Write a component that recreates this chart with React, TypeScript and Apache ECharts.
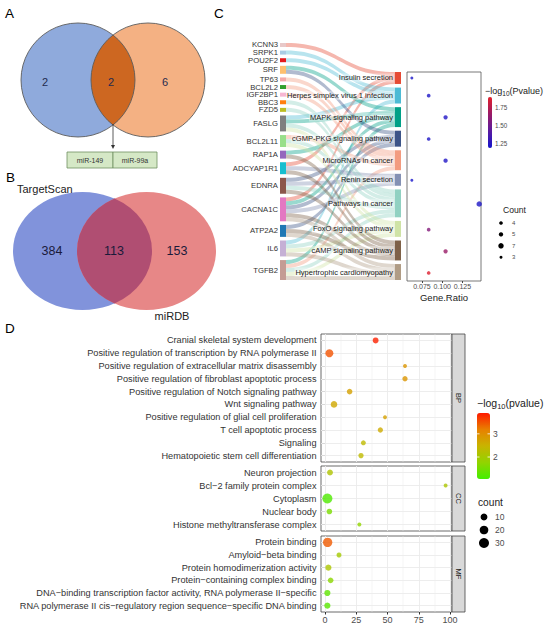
import React, { useEffect, useRef } from 'react';
import * as echarts from 'echarts';

const FONT = '"Liberation Sans", Arial, Helvetica, sans-serif';

// ---------- Panel A ----------
const vennACounts = [2, 2, 6]; // left only, both, right only
const vennAMirs = ['miR-149', 'miR-99a'];
// ---------- Panel B ----------
const vennBNames = ['TargetScan', 'miRDB'];
const vennBCounts = [384, 113, 153];

// ---------- Panel C ----------
const genes = ['KCNN3', 'SRPK1', 'POU2F2', 'SRF', 'TP63', 'BCL2L2', 'IGF2BP1', 'BBC3', 'FZD5', 'FASLG', 'BCL2L11', 'RAP1A', 'ADCYAP1R1', 'EDNRA', 'CACNA1C', 'ATP2A2', 'IL6', 'TGFB2'];
const geneColors = ['#e8c8c8', '#a9cce3', '#e31a1c', '#fdbf6f', '#f4a9a8', '#33a02c', '#f7b6d2', '#ff7f0e', '#bcbd22', '#7f7f7f', '#98df8a', '#9467bd', '#17becf', '#8c564b', '#e377c2', '#1f77b4', '#c5b0d5', '#c49c94'];
const pathways = ['Insulin secretion', 'Herpes simplex virus 1 infection', 'MAPK signaling pathway', 'cGMP-PKG signaling pathway', 'MicroRNAs in cancer', 'Renin secretion', 'Pathways in cancer', 'FoxO signaling pathway', 'cAMP signaling pathway', 'Hypertrophic cardiomyopathy'];
const pathwayColors = ['#E64B35', '#4DBBD5', '#00A087', '#3C5488', '#F39B7F', '#8491B4', '#91D1C2', '#cfe3a6', '#7E6148', '#B09C85'];
const pathwayGenes = [
  ['KCNN3', 'ADCYAP1R1', 'CACNA1C'],
  ['SRPK1', 'POU2F2', 'FASLG', 'IL6'],
  ['SRF', 'FASLG', 'RAP1A', 'CACNA1C', 'TGFB2'],
  ['SRF', 'EDNRA', 'CACNA1C', 'ATP2A2'],
  ['TP63', 'BCL2L2', 'IGF2BP1', 'BCL2L11', 'TGFB2'],
  ['ADCYAP1R1', 'EDNRA', 'CACNA1C'],
  ['FZD5', 'FASLG', 'BCL2L11', 'EDNRA', 'IL6', 'TGFB2', 'BBC3'],
  ['BCL2L11', 'FASLG', 'IL6', 'TGFB2'],
  ['ADCYAP1R1', 'EDNRA', 'CACNA1C', 'ATP2A2', 'RAP1A'],
  ['CACNA1C', 'ATP2A2', 'IL6', 'TGFB2'],
];
const pathwayCount = [3, 4, 5, 4, 5, 3, 7, 4, 5, 4];
const pathwayRatio = [0.0625, 0.0833, 0.1042, 0.0833, 0.1042, 0.0625, 0.1458, 0.0833, 0.1042, 0.0833];
const pathwayLogP = [1.21, 1.22, 1.23, 1.22, 1.23, 1.2, 1.22, 1.58, 1.66, 1.88];
const cRatioTicks = [0.075, 0.1, 0.125];
const cLogPTicks = [1.25, 1.5, 1.75];
const cCountLegend = [4, 5, 7, 3];

// ---------- Panel D ----------
const bpTerms = ['Cranial skeletal system development', 'Positive regulation of transcription by RNA polymerase II', 'Positive regulation of extracellular matrix disassembly', 'Positive regulation of fibroblast apoptotic process', 'Positive regulation of Notch signaling pathway', 'Wnt signaling pathway', 'Positive regulation of glial cell proliferation', 'T cell apoptotic process', 'Signaling', 'Hematopoietic stem cell differentiation'];
const bpX = [40.5, 3.5, 64, 64, 19.7, 7.2, 48, 44.3, 30.7, 28.8];
const bpCount = [6, 16, 1, 4, 5, 9, 1, 4, 3, 4];
const bpLogP = [3.85, 3.5, 2.9, 2.9, 2.75, 2.65, 2.75, 2.6, 2.35, 2.35];
const ccTerms = ['Neuron projection', 'Bcl\u22122 family protein complex', 'Cytoplasm', 'Nuclear body', 'Histone methyltransferase complex'];
const ccX = [4, 96.5, 1.9, 3.5, 27.5];
const ccCount = [6, 1, 30, 5, 1];
const ccLogP = [2.15, 2.1, 1.15, 1.55, 1.75];
const mfTerms = ['Protein binding', 'Amyloid\u2212beta binding', 'Protein homodimerization activity', 'Protein\u2212containing complex binding', 'DNA\u2212binding transcription factor activity, RNA polymerase II\u2212specific', 'RNA polymerase II cis\u2212regulatory region sequence\u2212specific DNA binding'];
const mfX = [2.1, 11.2, 2.7, 4.5, 1.9, 1.9];
const mfCount = [25, 3, 7, 5, 7, 7];
const mfLogP = [3.45, 2.0, 2.1, 1.7, 1.3, 1.25];
const dFacets = ['BP', 'CC', 'MF'];
const dXTicks = [0, 25, 50, 75, 100];
const dXGrid = [0, 12.5, 25, 37.5, 50, 62.5, 75, 87.5, 100];
const dLogPTicks = [2, 3];
const dCountLegend = [10, 20, 30];

// lens shape for Venn overlaps
const Lens = echarts.graphic.extendShape({
  shape: { cx1: 0, cx2: 0, cy: 0, r: 10 },
  buildPath(ctx: any, s: any) {
    const d = (s.cx2 - s.cx1) / 2;
    const a = Math.acos(d / s.r);
    ctx.moveTo(s.cx1 + d, s.cy - s.r * Math.sin(a));
    ctx.arc(s.cx1, s.cy, s.r, -a, a, false);
    ctx.arc(s.cx2, s.cy, s.r, Math.PI - a, Math.PI + a, false);
    ctx.closePath();
  },
});
echarts.graphic.registerShape('lens', Lens as any);

const sizeC = (c: number) => 2.7 * Math.sqrt(c) - 1.7;
const sizeD = (c: number) => 2.6 + 1.35 * Math.sqrt(c);

function txt(text: string, x: number, y: number, o: any = {}) {
  return {
    type: 'text', x, y, silent: true, z: o.z ?? 20, rotation: o.rotation || 0,
    style: {
      text, fontSize: o.fontSize || 9, fontFamily: FONT, fill: o.fill || '#222',
      align: o.align || 'left', verticalAlign: o.verticalAlign || 'middle', rich: o.rich,
    },
  };
}

function buildOption() {
  const SK_TOP = 43, SK_H = 237, GAP = 3.625;
  const total = pathwayCount.reduce((s, v) => s + v, 0);
  const ky = (SK_H - (genes.length - 1) * GAP) / total;
  const rightSpan = total * ky + (pathways.length - 1) * GAP;
  const rightOffset = SK_H - rightSpan;
  const localYs: number[] = [];
  const centers: number[] = [];
  let acc = rightOffset;
  pathwayCount.forEach((c) => {
    localYs.push(acc / SK_H);
    centers.push(acc + (c * ky) / 2);
    acc += c * ky + GAP;
  });

  const nodes = [
    ...genes.map((g, i) => ({
      name: g, itemStyle: { color: geneColors[i], borderWidth: 0 },
      label: { position: 'left', distance: 2, fontSize: 7.7, color: '#333', fontFamily: FONT },
    })),
    ...pathways.map((p, i) => ({
      name: p, localY: localYs[i], itemStyle: { color: pathwayColors[i], borderWidth: 0 },
      label: { position: 'left', distance: 1, fontSize: 7.5, color: '#222', fontFamily: FONT, backgroundColor: 'rgba(255,255,255,0.35)', padding: [1, 1, 0, 1] },
    })),
  ];
  const links: any[] = [];
  pathways.forEach((p, i) => pathwayGenes[i].forEach((g) => links.push({ source: g, target: p, value: 1 })));

  const dLeft = 321, dWidth = 131;
  const dGrids = [{ top: 334, height: 128 }, { top: 466, height: 65 }, { top: 536, height: 76 }];
  const dTerms = [bpTerms, ccTerms, mfTerms];
  const dX = [bpX, ccX, mfX];
  const dCount = [bpCount, ccCount, mfCount];
  const dLogP = [bpLogP, ccLogP, mfLogP];

  const cMin = 1.19, cMax = 1.9, cBarTop = 97, cBarH = 51, cBarLeft = 488, cBarW = 4;
  const dMin = 1.05, dMax = 3.9, dBarTop = 413, dBarH = 66, dBarLeft = 477, dBarW = 13;

  const grids: any[] = [
    { left: 407, top: 72, width: 74, height: 209, show: true, borderColor: '#555', borderWidth: 0.8, backgroundColor: '#fff' },
    ...dGrids.map((g) => ({ left: dLeft, width: dWidth, top: g.top, height: g.height, show: true, borderColor: '#444', borderWidth: 0.8, backgroundColor: '#fff' })),
  ];
  const xAxes: any[] = [
    {
      gridIndex: 0, type: 'value', min: 0.0565, max: 0.148, splitLine: { show: false }, axisLine: { show: false },
      axisTick: { show: true, customValues: cRatioTicks, length: 2, lineStyle: { color: '#444' } },
      axisLabel: { customValues: cRatioTicks, formatter: (v: number) => v.toFixed(3), fontSize: 7, color: '#4d4d4d', margin: 2, fontFamily: FONT },
      name: 'Gene.Ratio', nameLocation: 'middle', nameGap: 11, nameTextStyle: { fontSize: 9.5, color: '#222', fontFamily: FONT, verticalAlign: 'top' },
    },
    ...dGrids.map((g, k) => ({
      gridIndex: k + 1, type: 'value', min: -3.2, max: 101.6, splitLine: { show: false }, axisLine: { show: false },
      axisTick: { show: k === 2, customValues: dXTicks, length: 2.5, lineStyle: { color: '#333' } },
      axisLabel: { show: k === 2, customValues: dXTicks, fontSize: 9, color: '#4d4d4d', margin: 3, fontFamily: FONT },
    })),
  ];
  const yAxes: any[] = [
    { gridIndex: 0, type: 'value', min: rightOffset, max: SK_H, inverse: true, show: false, splitLine: { show: false } },
    ...dGrids.map((g, k) => ({
      gridIndex: k + 1, type: 'category', data: dTerms[k], inverse: true,
      axisLine: { show: false }, splitLine: { show: false },
      axisTick: { show: true, alignWithLabel: true, length: 3, lineStyle: { color: '#333' } },
      axisLabel: { fontSize: 9.2, color: '#333', margin: 4.5, fontFamily: FONT },
    })),
  ];

  const series: any[] = [
    {
      type: 'sankey', left: 280, top: SK_TOP, width: 121, height: SK_H, nodeWidth: 6, nodeGap: GAP,
      layoutIterations: 0, draggable: false, emphasis: { disabled: true },
      data: nodes, links,
      lineStyle: { color: 'target', opacity: 0.4, curveness: 0.5 },
      itemStyle: { borderWidth: 0 },
    },
    {
      type: 'scatter', xAxisIndex: 0, yAxisIndex: 0,
      data: pathways.map((p, i) => [pathwayRatio[i], centers[i], pathwayLogP[i], pathwayCount[i]]),
      symbolSize: (v: number[]) => sizeC(v[3]), emphasis: { disabled: true },
    },
    ...dGrids.map((g, k) => ({
      type: 'scatter', xAxisIndex: k + 1, yAxisIndex: k + 1, z: 3,
      data: dTerms[k].map((t, i) => [dX[k][i], i, dLogP[k][i], dCount[k][i]]),
      symbolSize: (v: number[]) => sizeD(v[3]), emphasis: { disabled: true },
      markLine: {
        z: 1, silent: true, symbol: ['none', 'none'], label: { show: false }, emphasis: { disabled: true },
        lineStyle: { color: '#ebebeb', width: 0.5, type: 'solid' },
        data: [
          ...dXGrid.map((v) => ({ xAxis: v, lineStyle: { color: '#ebebeb', type: 'solid', width: v % 25 === 0 ? 0.9 : 0.45 } })),
          ...dTerms[k].map((t, i) => ({ yAxis: i, lineStyle: { color: '#ebebeb', type: 'solid', width: 0.9 } })),
        ],
      },
    })),
  ];

  const graphic: any[] = [];
  // Panel labels
  graphic.push(txt('A', 5, 13, { fontSize: 13.5, fill: '#000' }));
  graphic.push(txt('B', 6, 177, { fontSize: 13.5, fill: '#000' }));
  graphic.push(txt('C', 214, 13, { fontSize: 13.5, fill: '#000' }));
  graphic.push(txt('D', 5, 328, { fontSize: 13.5, fill: '#000' }));

  // Panel A venn
  const aL = { cx: 78, cy: 80, r: 57 }, aR = { cx: 148, cy: 80, r: 57 };
  graphic.push({ type: 'circle', shape: aL, style: { fill: '#8faadc', stroke: 'none' }, silent: true, z: 5 });
  graphic.push({ type: 'circle', shape: aR, style: { fill: '#f4b183', stroke: 'none' }, silent: true, z: 5 });
  graphic.push({ type: 'lens', shape: { cx1: aL.cx, cx2: aR.cx, cy: aL.cy, r: aL.r }, style: { fill: '#c55a11', opacity: 0.85 }, silent: true, z: 6 });
  graphic.push({ type: 'circle', shape: aL, style: { fill: 'none', stroke: '#5b5b5b', lineWidth: 0.9 }, silent: true, z: 7 });
  graphic.push({ type: 'circle', shape: aR, style: { fill: 'none', stroke: '#5b5b5b', lineWidth: 0.9 }, silent: true, z: 7 });
  graphic.push(txt(String(vennACounts[0]), 45, 82, { fontSize: 11, fill: '#1f2a4f', align: 'center' }));
  graphic.push(txt(String(vennACounts[1]), 111, 82, { fontSize: 11, fill: '#1f2a4f', align: 'center' }));
  graphic.push(txt(String(vennACounts[2]), 165, 82, { fontSize: 11, fill: '#1f2a4f', align: 'center' }));
  // arrow
  graphic.push({ type: 'line', shape: { x1: 113, y1: 124, x2: 113, y2: 147 }, style: { stroke: '#333', lineWidth: 0.8 }, silent: true, z: 8 });
  graphic.push({ type: 'polygon', shape: { points: [[111, 145], [115, 145], [113, 149]] }, style: { fill: '#333' }, silent: true, z: 8 });
  // box
  graphic.push({ type: 'rect', shape: { x: 67, y: 152, width: 46, height: 16 }, style: { fill: '#d5e8c6', stroke: '#6f8f60', lineWidth: 0.8 }, silent: true, z: 8 });
  graphic.push({ type: 'rect', shape: { x: 113, y: 152, width: 44, height: 16 }, style: { fill: '#d5e8c6', stroke: '#6f8f60', lineWidth: 0.8 }, silent: true, z: 8 });
  graphic.push(txt(vennAMirs[0], 90, 160.5, { fontSize: 7, fill: '#333', align: 'center' }));
  graphic.push(txt(vennAMirs[1], 135, 160.5, { fontSize: 7, fill: '#333', align: 'center' }));

  // Panel B venn (ellipses)
  const bCy = 251, bRx = 69.5, bRy = 59, bL = 82.5, bR = 146.5;
  graphic.push({ type: 'ellipse', shape: { cx: bL, cy: bCy, rx: bRx, ry: bRy }, style: { fill: '#8193db' }, silent: true, z: 5 });
  graphic.push({ type: 'ellipse', shape: { cx: bR, cy: bCy, rx: bRx, ry: bRy }, style: { fill: '#e78787' }, silent: true, z: 5 });
  graphic.push({ type: 'lens', x: 0, y: bCy, scaleY: bRy / bRx, shape: { cx1: bL, cx2: bR, cy: 0, r: bRx }, style: { fill: '#b04e72' }, silent: true, z: 6 });
  graphic.push(txt(vennBNames[0], 17, 189, { fontSize: 11, fill: '#222' }));
  graphic.push(txt(vennBNames[1], 172, 316, { fontSize: 11, fill: '#222', align: 'center' }));
  graphic.push(txt(String(vennBCounts[0]), 52, 251, { fontSize: 12.5, fill: '#1a1a3a', align: 'center' }));
  graphic.push(txt(String(vennBCounts[1]), 114, 251, { fontSize: 12.5, fill: '#1a1a3a', align: 'center' }));
  graphic.push(txt(String(vennBCounts[2]), 177, 251, { fontSize: 12.5, fill: '#1a1a3a', align: 'center' }));

  // Panel C legends
  graphic.push(txt('\u2212log{sub|10}(Pvalue)', 485, 91, { fontSize: 9, fill: '#222', rich: { sub: { fontSize: 6.5, padding: [5, 0, 0, 0] } } }));
  cLogPTicks.forEach((v) => {
    const y = cBarTop + ((cMax - v) / (cMax - cMin)) * cBarH;
    graphic.push(txt(v.toFixed(2), cBarLeft + cBarW + 3, y, { fontSize: 6.3, fill: '#4d4d4d' }));
  });
  graphic.push(txt('Count', 503, 210, { fontSize: 8.6, fill: '#222' }));
  cCountLegend.forEach((c, i) => {
    const y = 223 + i * 11.4;
    graphic.push({ type: 'circle', shape: { cx: 501, cy: y, r: sizeC(c) / 2 }, style: { fill: '#000' }, silent: true, z: 20 });
    graphic.push(txt(String(c), 512, y, { fontSize: 6, fill: '#4d4d4d' }));
  });

  // Panel D strips
  dGrids.forEach((g, k) => {
    graphic.push({ type: 'rect', shape: { x: dLeft + dWidth, y: g.top, width: 13, height: g.height }, style: { fill: '#d9d9d9', stroke: '#444', lineWidth: 0.8 }, silent: true, z: 10 });
    graphic.push(txt(dFacets[k], dLeft + dWidth + 6.5, g.top + g.height / 2, { fontSize: 7.5, fill: '#1a1a1a', align: 'center', rotation: -Math.PI / 2 }));
  });
  // Panel D legends
  graphic.push(txt('\u2212log{sub|10}(pvalue)', 477, 403, { fontSize: 10.5, fill: '#222', rich: { sub: { fontSize: 7.5, padding: [6, 0, 0, 0] } } }));
  dLogPTicks.forEach((v) => {
    const y = dBarTop + ((dMax - v) / (dMax - dMin)) * dBarH;
    graphic.push(txt(String(v), dBarLeft + dBarW + 3, y, { fontSize: 8.5, fill: '#4d4d4d' }));
    graphic.push({ type: 'line', shape: { x1: dBarLeft, y1: y, x2: dBarLeft + 2.5, y2: y }, style: { stroke: '#fff', lineWidth: 0.8 }, silent: true, z: 30 });
    graphic.push({ type: 'line', shape: { x1: dBarLeft + dBarW - 2.5, y1: y, x2: dBarLeft + dBarW, y2: y }, style: { stroke: '#fff', lineWidth: 0.8 }, silent: true, z: 30 });
  });
  graphic.push(txt('count', 478, 502, { fontSize: 10.2, fill: '#222' }));
  dCountLegend.forEach((c, i) => {
    const y = 517 + i * 13;
    graphic.push({ type: 'circle', shape: { cx: 484, cy: y, r: sizeD(c) / 2 }, style: { fill: '#000' }, silent: true, z: 20 });
    graphic.push(txt(String(c), 495, y, { fontSize: 8.5, fill: '#4d4d4d' }));
  });

  return {
    animation: false,
    backgroundColor: '#fff',
    textStyle: { fontFamily: FONT },
    grid: grids,
    xAxis: xAxes,
    yAxis: yAxes,
    visualMap: [
      {
        type: 'continuous', seriesIndex: 1, dimension: 2, min: cMin, max: cMax, calculable: false, realtime: false,
        left: cBarLeft, top: cBarTop, itemWidth: cBarW, itemHeight: cBarH, padding: 0,
        inRange: { color: ['#1414cc', '#5a1aa0', '#9a1a66', '#e3202a'] },
      },
      {
        type: 'continuous', seriesIndex: [2, 3, 4], dimension: 2, min: dMin, max: dMax, calculable: false, realtime: false,
        left: dBarLeft, top: dBarTop, itemWidth: dBarW, itemHeight: dBarH, padding: 0,
        inRange: { color: ['#44ee00', '#92d400', '#c8b400', '#e88000', '#ff1a00'] },
      },
    ],
    series,
    graphic,
  };
}

export default function App() {
  const ref = useRef<HTMLDivElement>(null);
  useEffect(() => {
    if (!ref.current) return;
    const chart = echarts.init(ref.current, null, { renderer: 'svg' });
    chart.setOption(buildOption() as any);
    return () => chart.dispose();
  }, []);
  return <div ref={ref} style={{ position: 'fixed', left: 0, top: 0, width: 550, height: 628, background: '#fff' }} />;
}
